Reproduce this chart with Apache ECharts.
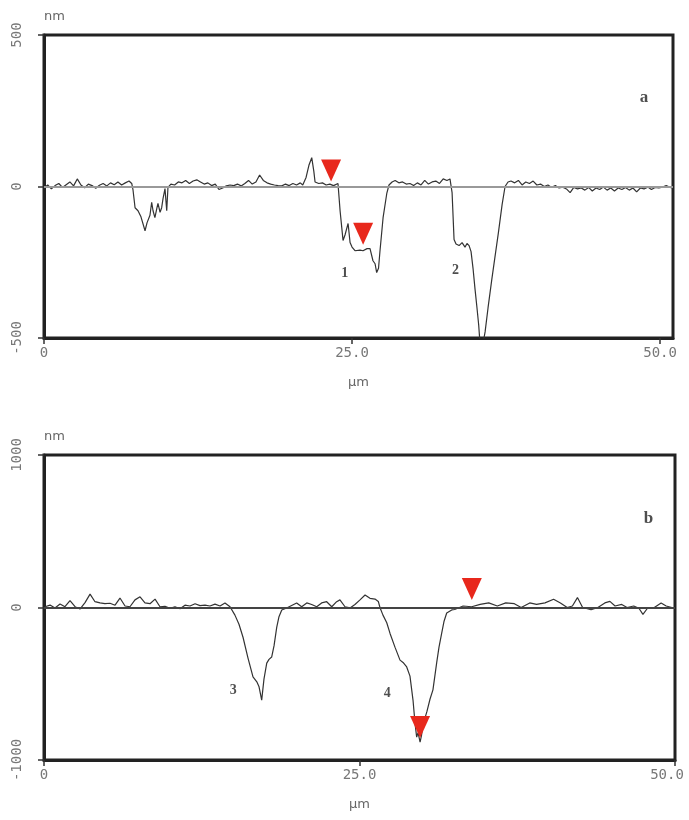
<!DOCTYPE html>
<html>
<head>
<meta charset="utf-8">
<script src="https://cdn.jsdelivr.net/npm/echarts@6/dist/echarts.min.js"></script>
<style>
  html, body { margin: 0; padding: 0; background: #fff; }
  #main { width: 689px; height: 820px; }
</style>
</head>
<body>
<div id="main"></div>
<script>
// profile a : [x µm, height nm]
var profileA = [
  [0,-5],[0.3,5],[0.6,-8],[0.9,3],[1.2,10],[1.5,-3],[1.8,6],[2.1,15],[2.4,2],[2.7,25],[3.0,5],[3.3,-4],
  [3.6,8],[3.9,3],[4.2,-6],[4.5,4],[4.8,10],[5.1,2],[5.4,12],[5.7,6],[6.0,15],[6.3,5],[6.6,12],[6.9,18],
  [7.12,10],[7.22,-10],[7.39,-70],[7.63,-80],[7.87,-100],[8.2,-146],[8.36,-120],[8.6,-95],[8.74,-52],
  [8.85,-80],[9.0,-103],[9.17,-70],[9.25,-56],[9.42,-85],[9.55,-70],[9.66,-40],[9.82,-7],[9.96,-80],
  [10.06,-3],[10.3,8],[10.6,5],[10.9,15],[11.2,12],[11.5,20],[11.8,10],[12.1,18],[12.4,22],[12.7,15],
  [13.0,8],[13.3,12],[13.6,3],[13.9,8],[14.2,-10],[14.5,-5],[14.8,2],[15.1,5],[15.4,3],[15.7,8],[16.0,2],
  [16.3,10],[16.6,20],[16.9,8],[17.2,15],[17.5,38],[17.8,20],[18.1,12],[18.4,8],[18.7,5],[19.0,3],
  [19.3,2],[19.6,8],[19.9,3],[20.2,10],[20.5,5],[20.8,12],[21.0,5],[21.27,30],[21.5,70],[21.73,95],
  [21.9,50],[22.0,15],[22.3,10],[22.6,12],[22.9,5],[23.2,8],[23.5,3],[23.86,10],
  [24.03,-80],[24.27,-178],[24.43,-160],[24.68,-122],[24.84,-185],[25.0,-200],[25.24,-212],[25.65,-210],
  [25.89,-212],[26.22,-205],[26.46,-205],[26.7,-245],[26.87,-255],[27.0,-284],[27.15,-270],[27.27,-212],
  [27.52,-103],[27.82,-23],[28.0,5],[28.25,15],[28.5,20],[28.8,12],[29.1,15],[29.4,8],[29.7,10],[30.0,3],
  [30.3,12],[30.6,5],[30.9,20],[31.2,8],[31.5,15],[31.8,18],[32.1,10],[32.4,25],[32.7,20],[32.95,25],
  [33.12,-20],[33.28,-175],[33.44,-190],[33.69,-195],[33.93,-185],[34.17,-200],[34.33,-188],[34.5,-195],
  [34.66,-215],[34.82,-270],[34.98,-338],[35.14,-400],[35.28,-457],[35.39,-520],[35.55,-540],[35.71,-500],
  [35.8,-480],[36.04,-400],[36.35,-305],[36.61,-230],[36.88,-152],[37.18,-60],[37.42,0],[37.66,15],
  [37.9,18],[38.2,12],[38.5,20],[38.8,5],[39.1,15],[39.4,10],[39.7,18],[40.0,5],[40.3,8],[40.6,0],
  [40.9,5],[41.2,-3],[41.5,3],[41.8,-5],[42.1,-2],[42.4,-8],[42.7,-20],[43.0,-3],[43.3,-8],[43.6,-5],
  [43.9,-12],[44.2,-3],[44.5,-15],[44.8,-5],[45.1,-10],[45.4,-2],[45.7,-12],[46.0,-5],[46.3,-15],
  [46.6,-5],[46.9,-10],[47.2,-3],[47.5,-12],[47.8,-5],[48.1,-18],[48.4,-5],[48.7,-8],[49.0,-2],
  [49.3,-10],[49.6,-3],[49.9,-5],[50.2,-2],[50.5,3],[50.8,-3],[51.05,-5]
];

// profile b
var profileB = [
  [0.08,5],[0.48,16],[0.87,-3],[1.27,23],[1.66,5],[2.06,45],[2.46,5],[2.85,-10],[3.25,32],[3.65,88],
  [4.04,38],[4.44,30],[4.83,25],[5.23,28],[5.63,15],[6.02,62],[6.42,10],[6.81,5],[7.21,50],[7.61,70],
  [8.0,30],[8.4,25],[8.8,55],[9.19,5],[9.59,8],[9.98,-5],[10.38,5],[10.78,-8],[11.17,15],[11.57,10],
  [11.97,25],[12.36,12],[12.76,15],[13.15,10],[13.55,22],[13.95,10],[14.34,30],[14.74,5],
  [15.13,-50],[15.45,-110],[15.77,-195],[16.16,-330],[16.56,-455],[16.88,-490],[17.04,-520],[17.25,-607],
  [17.43,-470],[17.65,-365],[17.83,-340],[18.04,-325],[18.23,-250],[18.44,-130],[18.62,-60],[18.84,-16],
  [19.23,-3],[20.02,30],[20.42,5],[20.82,30],[21.21,20],[21.61,5],[22.0,30],[22.4,38],[22.8,5],
  [23.19,38],[23.45,50],[23.85,5],[24.25,-3],[24.64,20],[25.04,50],[25.44,82],[25.83,60],[26.23,55],
  [26.49,40],[26.62,0],
  [26.86,-50],[27.16,-100],[27.42,-170],[27.81,-260],[28.21,-345],[28.45,-360],[28.74,-390],[29.0,-450],
  [29.24,-607],[29.4,-760],[29.53,-850],[29.64,-820],[29.8,-882],[29.91,-840],[30.03,-770],[30.35,-680],
  [30.59,-600],[30.82,-540],[31.12,-360],[31.3,-260],[31.51,-170],[31.7,-90],[31.91,-36],[32.31,-16],
  [32.54,-13],[33.21,10],[33.89,5],[34.56,20],[35.24,30],[35.92,10],[36.59,30],[37.27,25],[37.81,0],
  [38.49,30],[39.03,20],[39.7,30],[40.38,54],[40.92,30],[41.46,0],[41.87,10],[42.27,65],[42.68,0],
  [43.35,-15],[43.89,0],[44.44,30],[44.84,40],[45.25,10],[45.78,20],[46.2,0],[46.73,10],[47.14,-5],
  [47.46,-45],[47.82,-5],[48.36,0],[48.9,30],[49.3,10],[49.98,-5]
];

// red cursor markers
var markersA = [[23.3, 53], [25.9, -156]];
var markersB = [[33.9, 121], [29.8, -784]];

// feature numbers and panel letters
var labelsA = [{ name: '1', value: [24.4, -288] }, { name: '2', value: [33.4, -278] }];
var labelsB = [{ name: '3', value: [15.0, -541] }, { name: '4', value: [27.2, -561] }];
var panelA = [{ name: 'a', value: [48.7, 295] }];
var panelB = [{ name: 'b', value: [47.9, 585] }];

var xTicks = [0, 25, 50];
var yRangeA = [-500, 500];
var yRangeB = [-1000, 1000];

var mono = 'DejaVu Sans Mono';
var serif = 'Liberation Serif';
var frame = { color: '#222', width: 3 };

// shiftLast: the last label of panel b sits a little left of its tick, as in the original
function xAxisOf(idx, max, shiftLast) {
    return {
        gridIndex: idx,
        type: 'value',
        min: 0,
        max: max,
        name: 'µm',
        nameLocation: 'middle',
        nameGap: 38,
        nameTextStyle: { color: '#666', fontSize: 13, fontFamily: 'DejaVu Sans' },
        axisLine: { show: true, onZero: false, lineStyle: frame },
        splitLine: { show: false },
        axisTick: { show: true, length: 6, lineStyle: { color: '#333', width: 1.5 }, customValues: xTicks },
        axisLabel: {
            color: '#777', fontSize: 14, fontFamily: mono, margin: 8,
            customValues: xTicks,
            formatter: function (v) {
                if (v === 0) return '0';
                if (shiftLast && v === 50) return '{s|' + v.toFixed(1) + '}';
                return v.toFixed(1);
            },
            rich: { s: { color: '#777', fontSize: 14, fontFamily: mono, padding: [0, 16, 0, 0] } }
        }
    };
}

function yAxisOf(idx, range) {
    return {
        gridIndex: idx,
        type: 'value',
        min: range[0],
        max: range[1],
        interval: range[1],
        name: 'nm',
        nameLocation: 'end',
        nameGap: 12,
        nameTextStyle: { color: '#666', fontSize: 13, fontFamily: 'DejaVu Sans', align: 'left' },
        axisLine: { show: true, onZero: false, lineStyle: frame },
        splitLine: { show: false },
        axisTick: { show: true, length: 6, lineStyle: { color: '#333', width: 1.5 } },
        axisLabel: {
            color: '#777', fontSize: 14, fontFamily: mono, rotate: 90, margin: 20,
            formatter: function (v) { return String(v); }
        }
    };
}

function profileSeries(idx, data, zeroColor) {
    return {
        type: 'line',
        xAxisIndex: idx,
        yAxisIndex: idx,
        data: data,
        showSymbol: false,
        symbol: 'none',
        clip: true,
        lineStyle: { color: '#333', width: 1.2 },
        markLine: {
            silent: true,
            symbol: 'none',
            label: { show: false },
            lineStyle: { color: zeroColor, width: 2, type: 'solid' },
            data: [{ yAxis: 0 }]
        },
        z: 3
    };
}

function markerSeries(idx, data) {
    return {
        type: 'scatter',
        xAxisIndex: idx,
        yAxisIndex: idx,
        data: data,
        symbol: 'triangle',
        symbolRotate: 180,
        symbolSize: [20, 22],
        itemStyle: { color: '#e8281c', opacity: 1 },
        z: 5
    };
}

function textSeries(idx, data, size) {
    return {
        type: 'scatter',
        xAxisIndex: idx,
        yAxisIndex: idx,
        data: data,
        symbolSize: 1,
        itemStyle: { color: 'transparent' },
        label: {
            show: true,
            position: 'inside',
            formatter: '{b}',
            color: '#222',
            fontFamily: serif,
            fontWeight: 'bold',
            fontSize: size
        },
        z: 6
    };
}

var chart = echarts.init(document.getElementById('main'));
chart.setOption({
    backgroundColor: '#fff',
    animation: false,
    grid: [
        { left: 44, top: 35, width: 629, height: 303, outerBoundsMode: 'none', containLabel: false, show: true, borderColor: '#222', borderWidth: 3, backgroundColor: 'transparent' },
        { left: 44, top: 455, width: 631, height: 305, outerBoundsMode: 'none', containLabel: false, show: true, borderColor: '#222', borderWidth: 3, backgroundColor: 'transparent' }
    ],
    xAxis: [xAxisOf(0, 51.05, false), xAxisOf(1, 50, true)],
    yAxis: [yAxisOf(0, yRangeA), yAxisOf(1, yRangeB)],
    series: [
        profileSeries(0, profileA, '#999'),
        profileSeries(1, profileB, '#444'),
        markerSeries(0, markersA),
        markerSeries(1, markersB),
        textSeries(0, labelsA, 14),
        textSeries(1, labelsB, 14),
        textSeries(0, panelA, 17),
        textSeries(1, panelB, 17)
    ]
});
</script>
</body>
</html>
